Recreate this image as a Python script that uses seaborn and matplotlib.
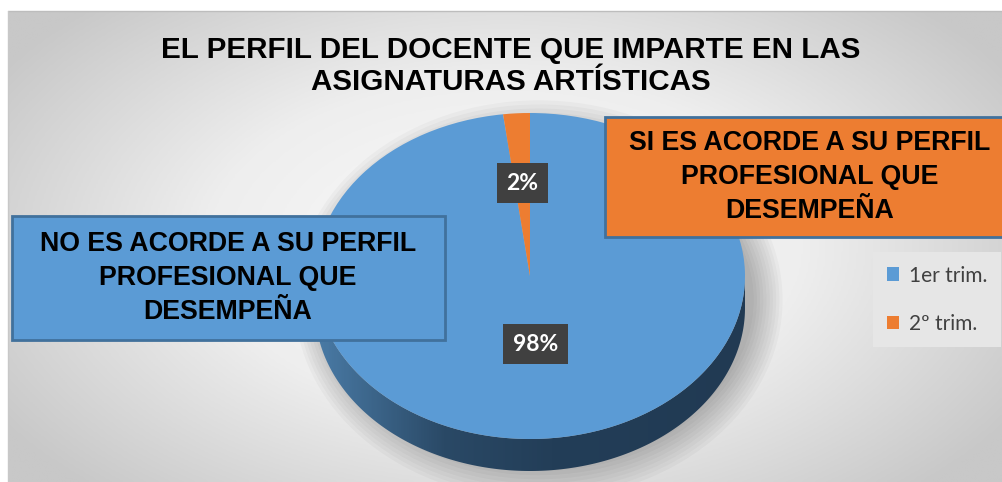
import numpy as np
import matplotlib
matplotlib.use("Agg")
import matplotlib.pyplot as plt
from matplotlib.patches import Rectangle, Polygon, Ellipse
from matplotlib.colors import LinearSegmentedColormap
import seaborn as sns

# data
categorias = ["1er trim.", "2º trim."]
valores = [98, 2]
colores = sns.color_palette(["#5B9BD5", "#ED7D31"])
titulo = "EL PERFIL DEL DOCENTE QUE IMPARTE EN LAS\nASIGNATURAS ARTÍSTICAS"
texto_no = "NO ES ACORDE A SU PERFIL\nPROFESIONAL QUE\nDESEMPEÑA"
texto_si = "SI ES ACORDE A SU PERFIL\nPROFESIONAL QUE\nDESEMPEÑA"

sns.set_style("white")
plt.rcParams["font.family"] = ["Liberation Sans", "DejaVu Sans"]

W, H = 1002, 482
fig = plt.figure(figsize=(W / 100, H / 100), dpi=100)

# fondo con degradado radial
bg = fig.add_axes([0, 0, 1, 1], zorder=0)
bg.axis("off")
yy, xx = np.mgrid[0:1:240j, 0:1:500j]
r = np.sqrt(((xx - 0.5) / 0.6) ** 2 + ((yy - 0.5) / 0.72) ** 2)
cmap_bg = LinearSegmentedColormap.from_list("bg", ["#fbfbfb", "#eeeeee", "#c8c8c8"])
bg.imshow(np.clip(r, 0, 1), cmap=cmap_bg, extent=[8, W, H, 11], aspect="auto",
          vmin=0, vmax=1, interpolation="bilinear")
bg.plot([8, W], [11, 11], color="#bdbdbd", lw=1)
bg.plot([8, 8], [11, H], color="#c8c8c8", lw=1)
bg.set_xlim(0, W)
bg.set_ylim(H, 0)

# pastel 3D (elipse)
cx, cy, rx, ry = 530, 276, 215, 163
depth = 32 / ry
px0, px1, py0, py1 = 290, 790, 90, 482
ax = fig.add_axes([px0 / W, 1 - py1 / H, (px1 - px0) / W, (py1 - py0) / H], zorder=1)
ax.patch.set_alpha(0)

# sombra
for k in range(10):
    ax.add_patch(Ellipse((0.04, -depth * 0.75), 2.0 + 0.03 * k, 2.0 + 0.05 * k,
                         facecolor="#000000", alpha=0.028, lw=0, zorder=0))

# lado del pastel
t = np.linspace(np.pi, 2 * np.pi, 200)
lado = np.vstack([np.column_stack([np.cos(t), np.sin(t)]),
                  np.column_stack([np.cos(t[::-1]), np.sin(t[::-1]) - depth])])
poly = Polygon(lado, closed=True, facecolor="none", edgecolor="none")
ax.add_patch(poly)
cmap_side = LinearSegmentedColormap.from_list(
    "side", [(0, "#4a7ba6"), (0.3, "#2a4966"), (0.55, "#233e58"), (1, "#213a53")])
grad = np.tile(np.linspace(0, 1, 300), (10, 1))
im = ax.imshow(grad, cmap=cmap_side, extent=[-1, 1, -1 - depth, 0], aspect="auto", zorder=1)
im.set_clip_path(poly)

wedges, _, autotexts = ax.pie(
    valores, colors=colores, startangle=90, counterclock=False, radius=1,
    autopct="%1.0f%%", pctdistance=0.5,
    wedgeprops={"linewidth": 0, "zorder": 3},
    textprops={"color": "white", "fontsize": 16.5, "fontweight": "bold",
               "family": ["Lato", "DejaVu Sans"]},
)
dist = [0.42, 0.57]
for w, txt, d in zip(wedges, autotexts, dist):
    ang = np.deg2rad((w.theta1 + w.theta2) / 2)
    txt.set_position((d * np.cos(ang), d * np.sin(ang)))
    txt.set_zorder(6)
    txt.set_bbox(dict(boxstyle="square,pad=0.42", facecolor="#404040", edgecolor="none"))

ax.set_aspect("auto")
ax.set_xlim((px0 - cx) / rx, (px1 - cx) / rx)
ax.set_ylim((cy - py1) / ry, (cy - py0) / ry)
ax.axis("off")

# capa superior: titulo y cuadros de texto
ov = fig.add_axes([0, 0, 1, 1], zorder=2)
ov.patch.set_alpha(0)
ov.set_xlim(0, W)
ov.set_ylim(H, 0)
ov.axis("off")

ov.text(511, 66, titulo, ha="center", va="center", fontsize=21.3,
        fontweight="bold", color="black", linespacing=1.2)

ov.add_patch(Rectangle((12, 216), 433, 124, facecolor="#5B9BD5",
                       edgecolor="#41719C", lw=2))
ov.text(228, 278, texto_no, ha="center", va="center", fontsize=19.3,
        fontweight="bold", color="black", linespacing=1.42)

ov.add_patch(Rectangle((605, 117), 420, 120, facecolor="#ED7D31",
                       edgecolor="#41719C", lw=2))
ov.text(810, 177, texto_si, ha="center", va="center", fontsize=19.3,
        fontweight="bold", color="black", linespacing=1.42)

leg = fig.legend(wedges, categorias, loc="upper left",
                 bbox_to_anchor=(873 / W, 1 - 252 / H),
                 frameon=True, fancybox=False, facecolor="#e6e6e6",
                 edgecolor="none", framealpha=1,
                 handlelength=0.62, handleheight=0.62, handletextpad=0.45,
                 labelspacing=1.35, borderpad=0.65, borderaxespad=0,
                 prop={"family": ["Lato", "DejaVu Sans"], "size": 15})
for tx in leg.get_texts():
    tx.set_color("#404040")

fig.savefig("out.png", dpi=100)
